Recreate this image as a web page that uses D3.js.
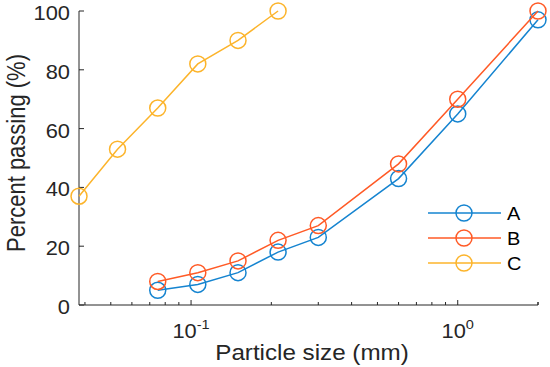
<!DOCTYPE html>
<html>
<head>
<meta charset="utf-8">
<script src="https://cdn.jsdelivr.net/npm/d3@7"></script>
<style>
  body { margin: 0; background: #fff; }
  svg { font-family: "Liberation Sans", Arial, sans-serif; }
</style>
</head>
<body>
<svg id="chart" width="550" height="367"></svg>
<script>
// Sieve sizes (mm) and percent passing
const sizesAB = [0.075, 0.106, 0.15, 0.212, 0.3, 0.6, 1.0, 2.0];
const valuesA = [5, 7, 11, 18, 23, 43, 65, 97];
const valuesB = [8, 11, 15, 22, 27, 48, 70, 100];
const sizesC = [0.038, 0.053, 0.075, 0.106, 0.15, 0.212];
const valuesC = [37, 53, 67, 82, 90, 100];
const yTicks = [0, 20, 40, 60, 80, 100];
const xMajor = [0.1, 1];
const seriesNames = ["A", "B", "C"];
const colors = ["#1584d0", "#ff5a26", "#fcb42b"];

const series = [
  { name: "A", x: sizesAB, y: valuesA, color: colors[0] },
  { name: "B", x: sizesAB, y: valuesB, color: colors[1] },
  { name: "C", x: sizesC, y: valuesC, color: colors[2] },
];

const svg = d3.select("#chart");
const margin = { left: 79, right: 12, top: 11, bottom: 62 };
const width = 550, height = 367;
const stretch = 1.12; // the picture's text is a bit wide

const x = d3.scaleLog().domain([0.038, 2]).range([margin.left, width - margin.right]);
const y = d3.scaleLinear().domain([0, 100]).range([height - margin.bottom, margin.top]);

const axisColor = "#262626";

// Minor ticks for log axis
const minorTicks = [];
for (let d = 0.01; d <= 1; d *= 10) {
  for (let k = 1; k <= 9; k++) {
    const v = +(d * k).toPrecision(3);
    if (v >= 0.038 && v <= 2 && !xMajor.includes(v)) minorTicks.push(v);
  }
}
minorTicks.push(2);

const gx = svg.append("g").attr("transform", `translate(0,${y(0)})`);
gx.append("line")
  .attr("x1", x.range()[0]).attr("x2", x.range()[1])
  .attr("stroke", axisColor).attr("stroke-width", 1);
gx.selectAll(".minor").data(minorTicks).enter().append("line")
  .attr("x1", d => x(d)).attr("x2", d => x(d))
  .attr("y1", 0).attr("y2", -3)
  .attr("stroke", axisColor);
gx.selectAll(".major").data(xMajor).enter().append("line")
  .attr("x1", d => x(d)).attr("x2", d => x(d))
  .attr("y1", 0).attr("y2", -5)
  .attr("stroke", axisColor);
const xl = gx.selectAll(".lab").data(xMajor).enter().append("text")
  .attr("transform", d => `translate(${x(d)},33) scale(${stretch},1)`)
  .attr("text-anchor", "middle")
  .attr("font-size", 19.5)
  .attr("fill", axisColor);
xl.append("tspan").text("10");
xl.append("tspan")
  .attr("dy", -9)
  .attr("font-size", 13)
  .text(d => Math.round(Math.log10(d)));

const gy = svg.append("g").attr("transform", `translate(${x.range()[0]},0)`);
gy.append("line")
  .attr("y1", y(0)).attr("y2", y(100))
  .attr("stroke", axisColor);
gy.selectAll(".t").data(yTicks).enter().append("line")
  .attr("y1", d => y(d)).attr("y2", d => y(d))
  .attr("x1", 0).attr("x2", 5)
  .attr("stroke", axisColor);
gy.selectAll(".l").data(yTicks).enter().append("text")
  .attr("transform", d => `translate(-9,${y(d) + 9}) scale(${stretch},1)`)
  .attr("text-anchor", "end")
  .attr("font-size", 19.5)
  .attr("fill", axisColor)
  .text(d => d);

// Axis titles
svg.append("text")
  .attr("transform", `translate(312,360) scale(1.1,1)`)
  .attr("text-anchor", "middle")
  .attr("font-size", 22)
  .attr("fill", axisColor)
  .text("Particle size (mm)");
svg.append("text")
  .attr("transform", `translate(25,153) rotate(-90) scale(1,1.18)`)
  .attr("text-anchor", "middle")
  .attr("font-size", 22)
  .attr("fill", axisColor)
  .text("Percent passing (%)");

// Lines and markers
const line = d3.line().x(d => x(d[0])).y(d => y(d[1]));
series.forEach(s => {
  const pts = s.x.map((v, i) => [v, s.y[i]]);
  const g = svg.append("g");
  g.append("path")
    .attr("d", line(pts))
    .attr("fill", "none")
    .attr("stroke", s.color)
    .attr("stroke-width", 1.5);
  g.selectAll("circle").data(pts).enter().append("circle")
    .attr("cx", d => x(d[0])).attr("cy", d => y(d[1]))
    .attr("r", 8)
    .attr("fill", "none")
    .attr("stroke", s.color)
    .attr("stroke-width", 1.5);
});

// Legend
const leg = svg.append("g").attr("transform", "translate(428,213)");
series.forEach((s, i) => {
  const row = leg.append("g").attr("transform", `translate(0,${i * 25})`);
  row.append("line").attr("x1", 0).attr("x2", 73)
    .attr("stroke", s.color).attr("stroke-width", 1.5);
  row.append("circle").attr("cx", 36).attr("r", 8)
    .attr("fill", "none").attr("stroke", s.color).attr("stroke-width", 1.5);
  row.append("text")
    .attr("transform", `translate(79,6.5) scale(1.05,1)`)
    .attr("font-size", 19).attr("fill", "#000")
    .text(seriesNames[i]);
});
</script>
</body>
</html>
